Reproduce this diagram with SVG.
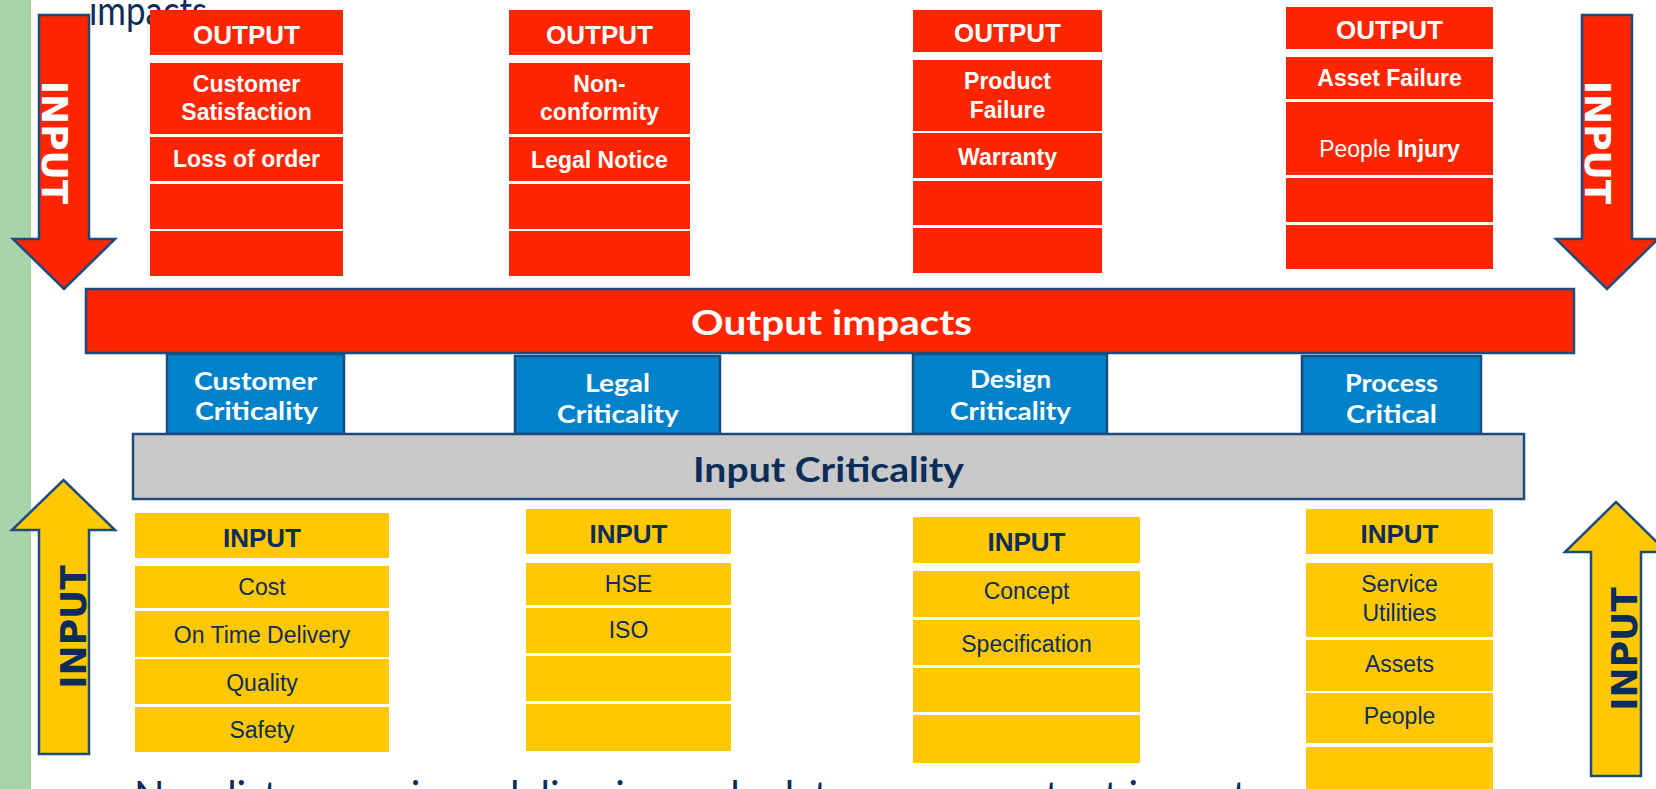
<svg xmlns="http://www.w3.org/2000/svg" width="1656" height="789" viewBox="0 0 1656 789">
  <style>
    .red { fill: #FF2500; }
    .yel { fill: #FFC800; }
    .outline { stroke: #1D4C7C; stroke-width: 2.5; stroke-linejoin: miter; }
    .wt { font-family: "Liberation Sans", Arial, sans-serif; font-weight: bold; font-size: 23px; fill: #FFFFFF; text-anchor: middle; }
    .wt.hd { font-size: 26px; }
    .yt { font-family: "Liberation Sans", Arial, sans-serif; font-size: 23px; fill: #0C2D5A; text-anchor: middle; }
    .yt.hd { font-weight: bold; font-size: 26px; }
    .gs { font-family: Lato, "Open Sans", sans-serif; font-weight: bold; }
    .crit { font-size: 24px; fill: #FFFFFF; }
    .bar { font-size: 35px; }
    .arrowtxt { font-family: "DejaVu Sans", Verdana, sans-serif; font-weight: bold; font-size: 36px; text-anchor: middle; }
    .body { font-family: Lato, "Open Sans", sans-serif; font-size: 40px; fill: #0C2D5A; }
  </style>

  <!-- side strip -->
  <rect x="0" y="0" width="31" height="789" fill="#A8D4AA"/>

  <!-- running text of the slide, clipped by the page edges -->
  <text class="body" x="89" y="25" font-size="37" textLength="118" lengthAdjust="spacingAndGlyphs">impacts</text>
  <text class="body" y="810"><tspan x="134">Now list our various</tspan><tspan x="497">delivering</tspan><tspan x="675">and relate on your</tspan><tspan x="1000">output impacts</tspan></text>

  <!-- big arrows -->
  <g id="arrow-left-down">
    <path class="red outline" d="M39,15 H89 V239 H115 L64,289 L13,239 H39 Z"/>
    <text class="arrowtxt" fill="#FFFFFF" transform="translate(42,142.5) rotate(90)">INPUT</text>
  </g>
  <g id="arrow-right-down">
    <path class="red outline" d="M1582,15 H1632 V239 H1658 L1607,289 L1556,239 H1582 Z"/>
    <text class="arrowtxt" fill="#FFFFFF" transform="translate(1585,142.5) rotate(90)">INPUT</text>
  </g>
  <g id="arrow-left-up">
    <path class="yel outline" d="M39,754 V530 H12 L63.5,480 L115,530 H89 V754 Z"/>
    <text class="arrowtxt" fill="#0C2D5A" transform="translate(86,627) rotate(-90)">INPUT</text>
  </g>
  <g id="arrow-right-up">
    <path class="yel outline" d="M1591,776 V552 H1565 L1616,502 L1667,552 H1641 V776 Z"/>
    <text class="arrowtxt" fill="#0C2D5A" transform="translate(1637,649) rotate(-90)">INPUT</text>
  </g>

  <!-- output columns -->
  <g id="output-customer">
    <rect class="red" x="150" y="10" width="193" height="45"/>
    <rect class="red" x="150" y="63" width="193" height="71"/>
    <rect class="red" x="150" y="137" width="193" height="44"/>
    <rect class="red" x="150" y="184" width="193" height="45"/>
    <rect class="red" x="150" y="231" width="193" height="45"/>
    <text class="wt hd" x="246.5" y="44">OUTPUT</text>
    <text class="wt" x="246.5" y="92">Customer</text>
    <text class="wt" x="246.5" y="120">Satisfaction</text>
    <text class="wt" x="246.5" y="167">Loss of order</text>
  </g>
  <g id="output-legal">
    <rect class="red" x="509" y="10" width="181" height="45"/>
    <rect class="red" x="509" y="63" width="181" height="71"/>
    <rect class="red" x="509" y="137" width="181" height="44"/>
    <rect class="red" x="509" y="184" width="181" height="45"/>
    <rect class="red" x="509" y="231" width="181" height="45"/>
    <text class="wt hd" x="599.5" y="44">OUTPUT</text>
    <text class="wt" x="599.5" y="92">Non-</text>
    <text class="wt" x="599.5" y="120">conformity</text>
    <text class="wt" x="599.5" y="168">Legal Notice</text>
  </g>
  <g id="output-design">
    <rect class="red" x="913" y="10" width="189" height="42"/>
    <rect class="red" x="913" y="60" width="189" height="71"/>
    <rect class="red" x="913" y="133" width="189" height="45"/>
    <rect class="red" x="913" y="181" width="189" height="44"/>
    <rect class="red" x="913" y="228" width="189" height="45"/>
    <text class="wt hd" x="1007.5" y="42">OUTPUT</text>
    <text class="wt" x="1007.5" y="89">Product</text>
    <text class="wt" x="1007.5" y="118">Failure</text>
    <text class="wt" x="1007.5" y="165">Warranty</text>
  </g>
  <g id="output-process">
    <rect class="red" x="1286" y="7" width="207" height="42"/>
    <rect class="red" x="1286" y="57" width="207" height="42"/>
    <rect class="red" x="1286" y="102" width="207" height="73"/>
    <rect class="red" x="1286" y="178" width="207" height="44"/>
    <rect class="red" x="1286" y="225" width="207" height="44"/>
    <text class="wt hd" x="1389.5" y="39">OUTPUT</text>
    <text class="wt" x="1389.5" y="86">Asset Failure</text>
    <text class="wt" x="1389.5" y="157"><tspan font-weight="normal">People  </tspan>Injury</text>
  </g>

  <!-- central bars -->
  <g id="output-impacts">
    <rect class="red outline" x="86" y="289" width="1488" height="64"/>
    <text class="gs bar" x="691" y="335" fill="#FFFFFF" textLength="281" lengthAdjust="spacingAndGlyphs">Output  impacts</text>
  </g>

  <g id="criticality-customer">
    <rect class="outline" fill="#0082CA" x="167" y="354" width="177" height="80"/>
    <text class="gs crit" x="194" y="390" textLength="123" lengthAdjust="spacingAndGlyphs">Customer</text>
    <text class="gs crit" x="195" y="420" textLength="123" lengthAdjust="spacingAndGlyphs">Criticality</text>
  </g>
  <g id="criticality-legal">
    <rect class="outline" fill="#0082CA" x="515" y="356" width="205" height="78"/>
    <text class="gs crit" x="585" y="392" textLength="65" lengthAdjust="spacingAndGlyphs">Legal</text>
    <text class="gs crit" x="557" y="423" textLength="122" lengthAdjust="spacingAndGlyphs">Criticality</text>
  </g>
  <g id="criticality-design">
    <rect class="outline" fill="#0082CA" x="913" y="354" width="194" height="80"/>
    <text class="gs crit" x="970" y="388" textLength="81" lengthAdjust="spacingAndGlyphs">Design</text>
    <text class="gs crit" x="950" y="420" textLength="121" lengthAdjust="spacingAndGlyphs">Criticality</text>
  </g>
  <g id="criticality-process">
    <rect class="outline" fill="#0082CA" x="1302" y="356" width="179" height="78"/>
    <text class="gs crit" x="1345" y="392" textLength="93" lengthAdjust="spacingAndGlyphs">Process</text>
    <text class="gs crit" x="1346" y="423" textLength="91" lengthAdjust="spacingAndGlyphs">Critical</text>
  </g>

  <g id="input-criticality">
    <rect class="outline" fill="#C9C9C9" x="133" y="434" width="1391" height="65"/>
    <text class="gs bar" x="693" y="482" fill="#0C2D5A" textLength="271" lengthAdjust="spacingAndGlyphs">Input Criticality</text>
  </g>

  <!-- input columns -->
  <g id="input-customer">
    <rect class="yel" x="135" y="513" width="254" height="45"/>
    <rect class="yel" x="135" y="566" width="254" height="42"/>
    <rect class="yel" x="135" y="611" width="254" height="46"/>
    <rect class="yel" x="135" y="659" width="254" height="45"/>
    <rect class="yel" x="135" y="707" width="254" height="45"/>
    <text class="yt hd" x="262" y="547">INPUT</text>
    <text class="yt" x="262" y="595">Cost</text>
    <text class="yt" x="262" y="643">On Time Delivery</text>
    <text class="yt" x="262" y="691">Quality</text>
    <text class="yt" x="262" y="738">Safety</text>
  </g>
  <g id="input-legal">
    <rect class="yel" x="526" y="509" width="205" height="45"/>
    <rect class="yel" x="526" y="563" width="205" height="42"/>
    <rect class="yel" x="526" y="608" width="205" height="45"/>
    <rect class="yel" x="526" y="656" width="205" height="45"/>
    <rect class="yel" x="526" y="704" width="205" height="47"/>
    <text class="yt hd" x="628.5" y="543">INPUT</text>
    <text class="yt" x="628.5" y="592">HSE</text>
    <text class="yt" x="628.5" y="638">ISO</text>
  </g>
  <g id="input-design">
    <rect class="yel" x="913" y="517" width="227" height="46"/>
    <rect class="yel" x="913" y="571" width="227" height="46"/>
    <rect class="yel" x="913" y="620" width="227" height="45"/>
    <rect class="yel" x="913" y="668" width="227" height="44"/>
    <rect class="yel" x="913" y="715" width="227" height="48"/>
    <text class="yt hd" x="1026.5" y="551">INPUT</text>
    <text class="yt" x="1026.5" y="599">Concept</text>
    <text class="yt" x="1026.5" y="652">Specification</text>
  </g>
  <g id="input-process">
    <rect class="yel" x="1306" y="509" width="187" height="45"/>
    <rect class="yel" x="1306" y="563" width="187" height="74"/>
    <rect class="yel" x="1306" y="640" width="187" height="51"/>
    <rect class="yel" x="1306" y="693" width="187" height="50"/>
    <rect class="yel" x="1306" y="747" width="187" height="50"/>
    <text class="yt hd" x="1399.5" y="543">INPUT</text>
    <text class="yt" x="1399.5" y="592">Service</text>
    <text class="yt" x="1399.5" y="621">Utilities</text>
    <text class="yt" x="1399.5" y="672">Assets</text>
    <text class="yt" x="1399.5" y="724">People</text>
  </g>
</svg>
